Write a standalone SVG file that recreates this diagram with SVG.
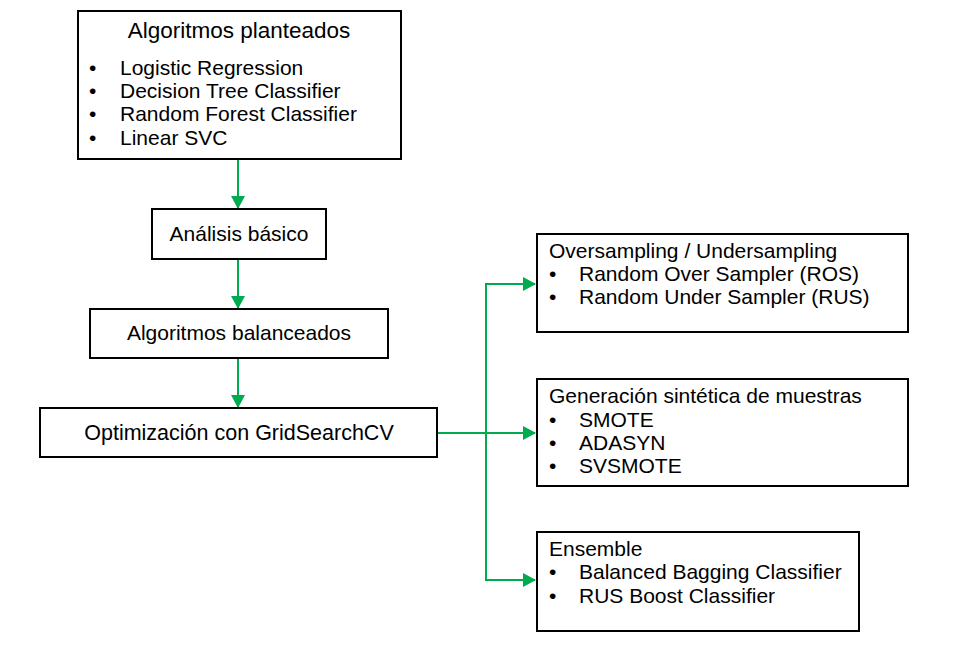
<svg xmlns="http://www.w3.org/2000/svg" width="974" height="650" viewBox="0 0 974 650">
<style>
.box{fill:#fff;stroke:#000;stroke-width:2}
text{font-family:"Liberation Sans",Arial,sans-serif;fill:#000;font-size:21px}
.c{text-anchor:middle}
.conn{fill:none;stroke:#00AA4F;stroke-width:2}
</style>
<defs>
<marker id="ah" markerWidth="13" markerHeight="14" refX="12" refY="7" orient="auto" markerUnits="userSpaceOnUse">
<path d="M0,0 L13,7 L0,14 Z" fill="#00AA4F"/>
</marker>
</defs>
<rect width="974" height="650" fill="#fff"/>
<g id="connectors">
<line class="conn" x1="238" y1="160" x2="238" y2="208" marker-end="url(#ah)"/>
<line class="conn" x1="238" y1="260" x2="238" y2="308" marker-end="url(#ah)"/>
<line class="conn" x1="238" y1="359" x2="238" y2="407" marker-end="url(#ah)"/>
<line class="conn" x1="438" y1="433" x2="535" y2="433" marker-end="url(#ah)"/>
<path class="conn" d="M535,284 H486 V580 H535" marker-end="url(#ah)"/>
<line class="conn" x1="486" y1="284" x2="535" y2="284" marker-end="url(#ah)"/>
</g>
<g id="n1">
<rect class="box" x="78" y="11" width="323" height="148"/>
<text class="c" x="239" y="38" style="font-size:22.5px">Algoritmos planteados</text>
<text x="89" y="75">•</text><text x="120" y="75">Logistic Regression</text>
<text x="89" y="98">•</text><text x="120" y="98">Decision Tree Classifier</text>
<text x="89" y="121">•</text><text x="120" y="121">Random Forest Classifier</text>
<text x="89" y="145">•</text><text x="120" y="145">Linear SVC</text>
</g>
<g id="n2">
<rect class="box" x="152" y="209" width="174" height="50"/>
<text class="c" x="239" y="241">Análisis básico</text>
</g>
<g id="n3">
<rect class="box" x="90" y="309" width="298" height="49"/>
<text class="c" x="239" y="340">Algoritmos balanceados</text>
</g>
<g id="n4">
<rect class="box" x="40" y="408" width="397" height="49"/>
<text class="c" x="239" y="440" style="font-size:21.5px">Optimización con GridSearchCV</text>
</g>
<g id="n5">
<rect class="box" x="537" y="234" width="371" height="98"/>
<text x="549" y="258">Oversampling / Undersampling</text>
<text x="549" y="281">•</text><text x="579" y="281">Random Over Sampler (ROS)</text>
<text x="549" y="304">•</text><text x="579" y="304">Random Under Sampler (RUS)</text>
</g>
<g id="n6">
<rect class="box" x="537" y="379" width="371" height="107"/>
<text x="549" y="403">Generación sintética de muestras</text>
<text x="549" y="427">•</text><text x="579" y="427">SMOTE</text>
<text x="549" y="450">•</text><text x="579" y="450">ADASYN</text>
<text x="549" y="473">•</text><text x="579" y="473">SVSMOTE</text>
</g>
<g id="n7">
<rect class="box" x="537" y="532" width="322" height="99"/>
<text x="549" y="556">Ensemble</text>
<text x="549" y="579">•</text><text x="579" y="579">Balanced Bagging Classifier</text>
<text x="549" y="603">•</text><text x="579" y="603">RUS Boost Classifier</text>
</g>
</svg>
